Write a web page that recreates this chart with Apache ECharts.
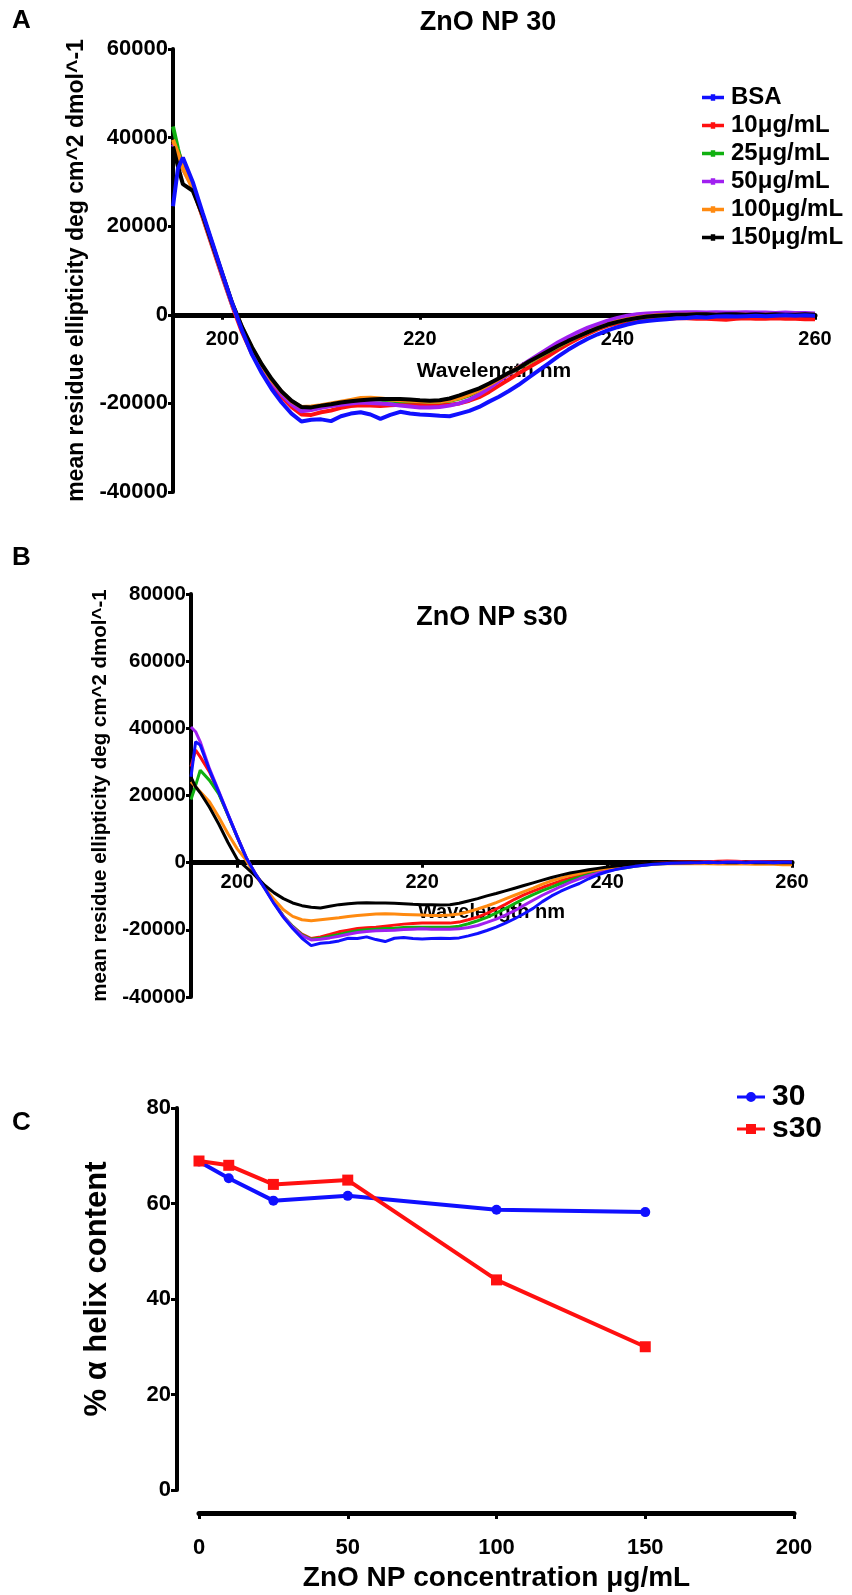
<!DOCTYPE html>
<html><head><meta charset="utf-8">
<script src="https://cdn.jsdelivr.net/npm/echarts@6/dist/echarts.min.js"></script>
<style>html,body{margin:0;padding:0;background:#fff}#c{width:852px;height:1595px}</style>
</head><body><div id="c"></div>
<script>
// ---------- data ----------
const seriesNames = ['BSA','10\u03bcg/mL','25\u03bcg/mL','50\u03bcg/mL','100\u03bcg/mL','150\u03bcg/mL'];
const seriesColors = ['#1010ff','#ff1010','#10b010','#a020f0','#ff8a10','#000000'];
const xTicks = [200,220,240,260];
const yTicksA = [-40000,-20000,0,20000,40000,60000];
const yTicksB = [-40000,-20000,0,20000,40000,60000,80000];
// wavelengths (nm)
const wl = [195,195.5,196,197,198,199,200,201,202,203,204,205,206,207,208,209,210,211,212,213,214,215,216,217,218,219,220,221,222,223,224,225,226,227,228,229,230,231,232,233,234,235,236,237,238,239,240,241,242,243,244,245,246,247,248,249,250,251,252,253,254,255,256,257,258,259,260];

// Panel A : ZnO NP 30
const aBSA = [24500,33000,35500,30000,23000,16200,9300,2600,-3600,-9000,-13200,-16800,-19800,-22300,-24100,-23700,-23600,-24000,-22900,-22300,-22000,-22500,-23500,-22600,-21900,-22300,-22500,-22600,-22800,-22900,-22300,-21700,-20800,-19600,-18500,-17200,-15800,-14200,-12600,-11000,-9400,-7900,-6600,-5400,-4400,-3500,-2800,-2200,-1700,-1400,-1200,-1000,-800,-700,-500,-600,-400,-300,-400,-300,-200,-300,-200,-100,-200,-100,-200];
const a10 = [39000,37000,34000,28800,22000,15200,8500,2000,-4000,-8800,-12500,-15800,-18500,-20800,-22500,-22600,-22000,-21600,-21000,-20600,-20400,-20500,-20600,-20400,-20300,-20300,-20300,-20400,-20400,-20300,-20000,-19400,-18600,-17400,-16000,-14600,-13200,-11900,-10600,-9300,-7900,-6600,-5400,-4300,-3300,-2500,-1900,-1400,-1100,-900,-900,-900,-800,-800,-900,-900,-1000,-1100,-900,-800,-900,-900,-800,-900,-900,-1000,-1000];
const a25 = [42500,37500,33000,29000,22500,15800,9000,2400,-3000,-7600,-11500,-14800,-17600,-19700,-21200,-21300,-20900,-20500,-20000,-19600,-19200,-19000,-19200,-19400,-19500,-19500,-19500,-19600,-19600,-19400,-18900,-18200,-17200,-16000,-14700,-13300,-12000,-10800,-9600,-8400,-7200,-6000,-4900,-3900,-3000,-2200,-1600,-1100,-700,-400,-200,-100,0,100,0,100,100,0,100,0,0,100,0,0,100,0,0];
const a50 = [38500,35500,33000,28800,22200,15500,8800,2200,-3300,-8000,-12000,-15300,-18000,-20200,-21800,-21500,-21000,-20600,-20300,-20000,-19800,-19900,-20000,-20200,-20500,-20700,-20900,-20900,-20800,-20500,-20000,-19200,-18000,-16600,-15000,-13400,-11800,-10400,-9000,-7600,-6200,-5000,-3900,-2900,-2100,-1300,-700,-200,100,300,400,500,500,600,600,500,600,500,500,600,500,500,400,500,400,400,300];
const a100 = [39500,36500,33000,28500,22200,15600,9000,2400,-2900,-7500,-11400,-14800,-17400,-19500,-20800,-20700,-20400,-20000,-19600,-19200,-18800,-18700,-18900,-19100,-19300,-19400,-19500,-19600,-19600,-19300,-18800,-18000,-17000,-15800,-14500,-13200,-11900,-10700,-9500,-8300,-7100,-6000,-4900,-3900,-3000,-2200,-1500,-1000,-600,-300,-100,0,0,0,100,0,0,-100,0,0,-100,0,0,-100,0,0,0];
const a150 = [38000,33500,29500,28000,22500,15800,9200,2600,-2800,-7300,-11200,-14500,-17300,-19400,-20800,-20900,-20500,-20200,-19800,-19500,-19300,-19100,-19000,-19000,-19000,-19100,-19300,-19400,-19300,-18900,-18200,-17400,-16600,-15500,-14300,-13100,-12000,-10600,-9400,-8200,-7000,-5900,-4900,-3900,-3000,-2200,-1600,-1100,-700,-400,-200,-100,0,0,100,100,0,100,100,0,100,0,100,0,0,100,0];

// Panel B : ZnO NP s30
const bBSA = [25600,36000,35000,27500,21000,14300,7700,1300,-3500,-7800,-12300,-16300,-19600,-22500,-24700,-24000,-23800,-23300,-22500,-22600,-22100,-22900,-23500,-22500,-22300,-22600,-22700,-22600,-22500,-22600,-22400,-21800,-21100,-20200,-19200,-18000,-16700,-15200,-13600,-11600,-9900,-8500,-7300,-6200,-4800,-3600,-2700,-2000,-1500,-1100,-800,-500,-300,-200,-100,0,0,100,0,100,100,0,100,100,0,100,100];
const b10 = [28600,33500,31500,27000,20800,14200,7600,1200,-3500,-7500,-12000,-16000,-19000,-21300,-22600,-22100,-21400,-20600,-20100,-19600,-19400,-19200,-18900,-18600,-18300,-18100,-18000,-18000,-18000,-18000,-17700,-17000,-16200,-15100,-13800,-12400,-10900,-9600,-8500,-7400,-6400,-5400,-4600,-3800,-3100,-2500,-2000,-1500,-1100,-700,-400,-200,0,100,200,200,300,300,400,500,400,300,300,300,200,200,200];
const b25 = [18800,23000,27500,24500,20500,14200,7700,1300,-3500,-7500,-12000,-16000,-19000,-21500,-22800,-22500,-22000,-21400,-20800,-20300,-20000,-19800,-19600,-19500,-19300,-19200,-19200,-19200,-19200,-19200,-18900,-18200,-17300,-16300,-15000,-13700,-12200,-10800,-9500,-8300,-7300,-6200,-5200,-4300,-3500,-2900,-2400,-1900,-1500,-1100,-800,-500,-300,-200,-100,-100,-100,0,-100,0,0,-100,0,0,0,0,0];
const b50 = [40400,39000,36000,28000,21300,14500,7800,1400,-3500,-7600,-12100,-16100,-19200,-21700,-23000,-22800,-22400,-21900,-21300,-20800,-20500,-20300,-20200,-20100,-19900,-19800,-19700,-19800,-19800,-19800,-19700,-19300,-18700,-17800,-16800,-15600,-14300,-12700,-11200,-9700,-8400,-7100,-5900,-4800,-3900,-3100,-2500,-1900,-1400,-1000,-700,-400,-200,-100,0,0,100,100,100,200,200,100,200,100,100,100,100];
const b100 = [24100,22600,21100,18100,13600,8600,4100,600,-4000,-7500,-11000,-14000,-16000,-17000,-17300,-17000,-16700,-16400,-16000,-15700,-15500,-15300,-15200,-15300,-15400,-15500,-15600,-15700,-15700,-15600,-15300,-14600,-13800,-12900,-11900,-10800,-9700,-8600,-7600,-6400,-5400,-4600,-3800,-3200,-2600,-2100,-1700,-1300,-1000,-800,-600,-400,-300,-300,-300,-300,-300,-300,-400,-400,-400,-400,-500,-500,-500,-600,-600];
const b150 = [25500,22600,20800,16500,11500,6000,1000,-1500,-4000,-6800,-9000,-10700,-12000,-12800,-13300,-13500,-13000,-12500,-12200,-12000,-11900,-12000,-12000,-12100,-12200,-12400,-12500,-12500,-12600,-12500,-12100,-11400,-10700,-9900,-9200,-8400,-7600,-6800,-6000,-5200,-4400,-3700,-3100,-2600,-2100,-1700,-1300,-1000,-700,-500,-300,-200,-100,0,0,0,100,0,100,0,0,100,0,0,0,0,0];

// Panel C : helix content
const conc = [0,10,25,50,100,150];
const helix30 = [68.8,65.3,60.6,61.6,58.7,58.2];
const helixS30 = [68.9,68.0,64.0,64.9,44.0,30.0];

// ---------- chart ----------
const FONT = '"Liberation Sans", Arial, Helvetica, sans-serif';
const chart = echarts.init(document.getElementById('c'), null, {renderer:'canvas'});
const setsA = [aBSA,a10,a25,a50,a100,a150];
const setsB = [bBSA,b10,b25,b50,b100,b150];
const pair = arr => wl.map((w,i)=>[w, arr[i]]);
const txt = (size) => ({color:'#000', fontFamily:FONT, fontWeight:'bold', fontSize:size});
const plain = v => String(v);

const gridA = {left:173, top:49, width:642, height:443};
const gridB = {left:191, top:594, width:601, height:403};
const gridC = {left:199, top:1108, width:595, height:382};

function zeroOffset(grid, ticks){
  const mn = ticks[0], mx = ticks[ticks.length-1];
  return -grid.height * (0 - mn) / (mx - mn);
}

function specAxisX(gi, grid, yt, name, gap, lm, fs, nfs){
  return {type:'value', gridIndex:gi, min:195, max:260, position:'bottom',
    offset: zeroOffset(grid, yt),
    axisLine:{show:true, onZero:false, lineStyle:{color:'#000', width:5}},
    axisTick:{show:true, customValues:xTicks, length:5, lineStyle:{color:'#000', width:3}},
    axisLabel:Object.assign({customValues:xTicks, margin:lm, formatter:plain}, txt(fs)),
    splitLine:{show:false},
    name:name, nameLocation:'middle', nameGap:gap, nameMoveOverlap:false, nameTextStyle:txt(nfs)};
}
function specAxisY(gi, yt, name, gap, fs, nfs){
  return {type:'value', gridIndex:gi, min:yt[0], max:yt[yt.length-1], interval:20000,
    axisLine:{show:true, onZero:false, lineStyle:{color:'#000', width:4}},
    axisTick:{show:true, length:5, lineStyle:{color:'#000', width:3}},
    axisLabel:Object.assign({margin:5, formatter:plain}, txt(fs)),
    splitLine:{show:false},
    name:name, nameLocation:'middle', nameRotate:90, nameGap:gap, nameTextStyle:txt(nfs)};
}
const yName = 'mean residue ellipticity deg cm^2 dmol^-1';

const series = [];
setsA.forEach((arr,k)=>series.push({type:'line', name:seriesNames[k], xAxisIndex:0, yAxisIndex:0,
  data:pair(arr), showSymbol:false, symbol:'circle', color:seriesColors[k],
  lineStyle:{width:4, color:seriesColors[k]}, z: k===0 ? 9 : 3+k, animation:false}));
setsB.forEach((arr,k)=>series.push({type:'line', name:seriesNames[k], xAxisIndex:1, yAxisIndex:1,
  data:pair(arr), showSymbol:false, color:seriesColors[k],
  lineStyle:{width:3, color:seriesColors[k]}, z: k===0 ? 9 : 3+k, animation:false}));
series.push({type:'line', name:'30', xAxisIndex:2, yAxisIndex:2, data:conc.map((c,i)=>[c,helix30[i]]),
  symbol:'circle', symbolSize:10, color:'#1010ff', lineStyle:{width:4,color:'#1010ff'}, itemStyle:{color:'#1010ff'}, animation:false});
series.push({type:'line', name:'s30', xAxisIndex:2, yAxisIndex:2, data:conc.map((c,i)=>[c,helixS30[i]]),
  symbol:'rect', symbolSize:11, color:'#ff1010', lineStyle:{width:4,color:'#ff1010'}, itemStyle:{color:'#ff1010'}, animation:false});

const iconA = 'path://M0,3H8V1.5H12V3H20V6H12V7.5H8V6H0Z';
const iconC1 = 'path://M0,3.5H9.3V6.5H0Z M18.7,3.5H28V6.5H18.7Z M9,5A5,5,0,1,1,19,5A5,5,0,1,1,9,5Z';
const iconC2 = 'path://M0,3.5H9V0H19V3.5H28V6.5H19V10H9V6.5H0Z';

const option = {
  backgroundColor:'#fff',
  animation:false,
  grid:[gridA, gridB, gridC],
  xAxis:[
    specAxisX(0, gridA, yTicksA, 'Wavelength nm', 46, 15, 20, 21),
    specAxisX(1, gridB, yTicksB, 'Wavelength nm', 40, 10, 20, 20),
    {type:'value', gridIndex:2, min:0, max:200, interval:50, offset:23,
      axisLine:{show:true, onZero:false, lineStyle:{color:'#000', width:5}},
      axisTick:{show:true, length:6, lineStyle:{color:'#000', width:3}},
      axisLabel:Object.assign({margin:24, formatter:plain}, txt(22)),
      splitLine:{show:false},
      name:'ZnO NP concentration \u03bcg/mL', nameLocation:'middle', nameGap:51, nameTextStyle:txt(28)}
  ],
  yAxis:[
    specAxisY(0, yTicksA, yName, 83, 22, 23),
    specAxisY(1, yTicksB, yName, 79, 20.5, 20.5),
    {type:'value', gridIndex:2, min:0, max:80, interval:20, offset:22,
      axisLine:{show:true, onZero:false, lineStyle:{color:'#000', width:4}},
      axisTick:{show:true, length:6, lineStyle:{color:'#000', width:3}},
      axisLabel:Object.assign({margin:6, formatter:plain}, txt(22)),
      splitLine:{show:false},
      name:'% \u03b1 helix content', nameLocation:'middle', nameRotate:90, nameGap:64,
      nameTextStyle:Object.assign({padding:[0,0,0,20]}, txt(31))}
  ],
  legend:[
    {left:697, top:80, orient:'vertical', itemWidth:22, itemHeight:7, itemGap:3,
      data:seriesNames.map((n,k)=>({name:n, icon:iconA, itemStyle:{color:seriesColors[k]}})),
      textStyle:Object.assign({lineHeight:25, padding:[0,0,0,2]}, txt(24)), selectedMode:false},
    {left:732, top:1077, orient:'vertical', itemWidth:28, itemHeight:10, itemGap:2,
      data:[{name:'30', icon:iconC1}, {name:'s30', icon:iconC2}],
      textStyle:Object.assign({lineHeight:29, padding:[0,0,0,2]}, txt(30)), selectedMode:false}
  ],
  graphic:[
    {type:'text', left:12, top:8, style:{text:'A', fill:'#000', font:'bold 26px '+FONT}},
    {type:'text', x:488, y:23, style:{text:'ZnO NP 30', fill:'#000', font:'bold 27px '+FONT, textAlign:'center', textVerticalAlign:'middle'}},
    {type:'text', left:12, top:545, style:{text:'B', fill:'#000', font:'bold 26px '+FONT}},
    {type:'text', x:492, y:618, style:{text:'ZnO NP s30', fill:'#000', font:'bold 27px '+FONT, textAlign:'center', textVerticalAlign:'middle'}},
    {type:'text', left:12, top:1110, style:{text:'C', fill:'#000', font:'bold 26px '+FONT}}
  ],
  series:series
};
chart.setOption(option);
</script></body></html>
